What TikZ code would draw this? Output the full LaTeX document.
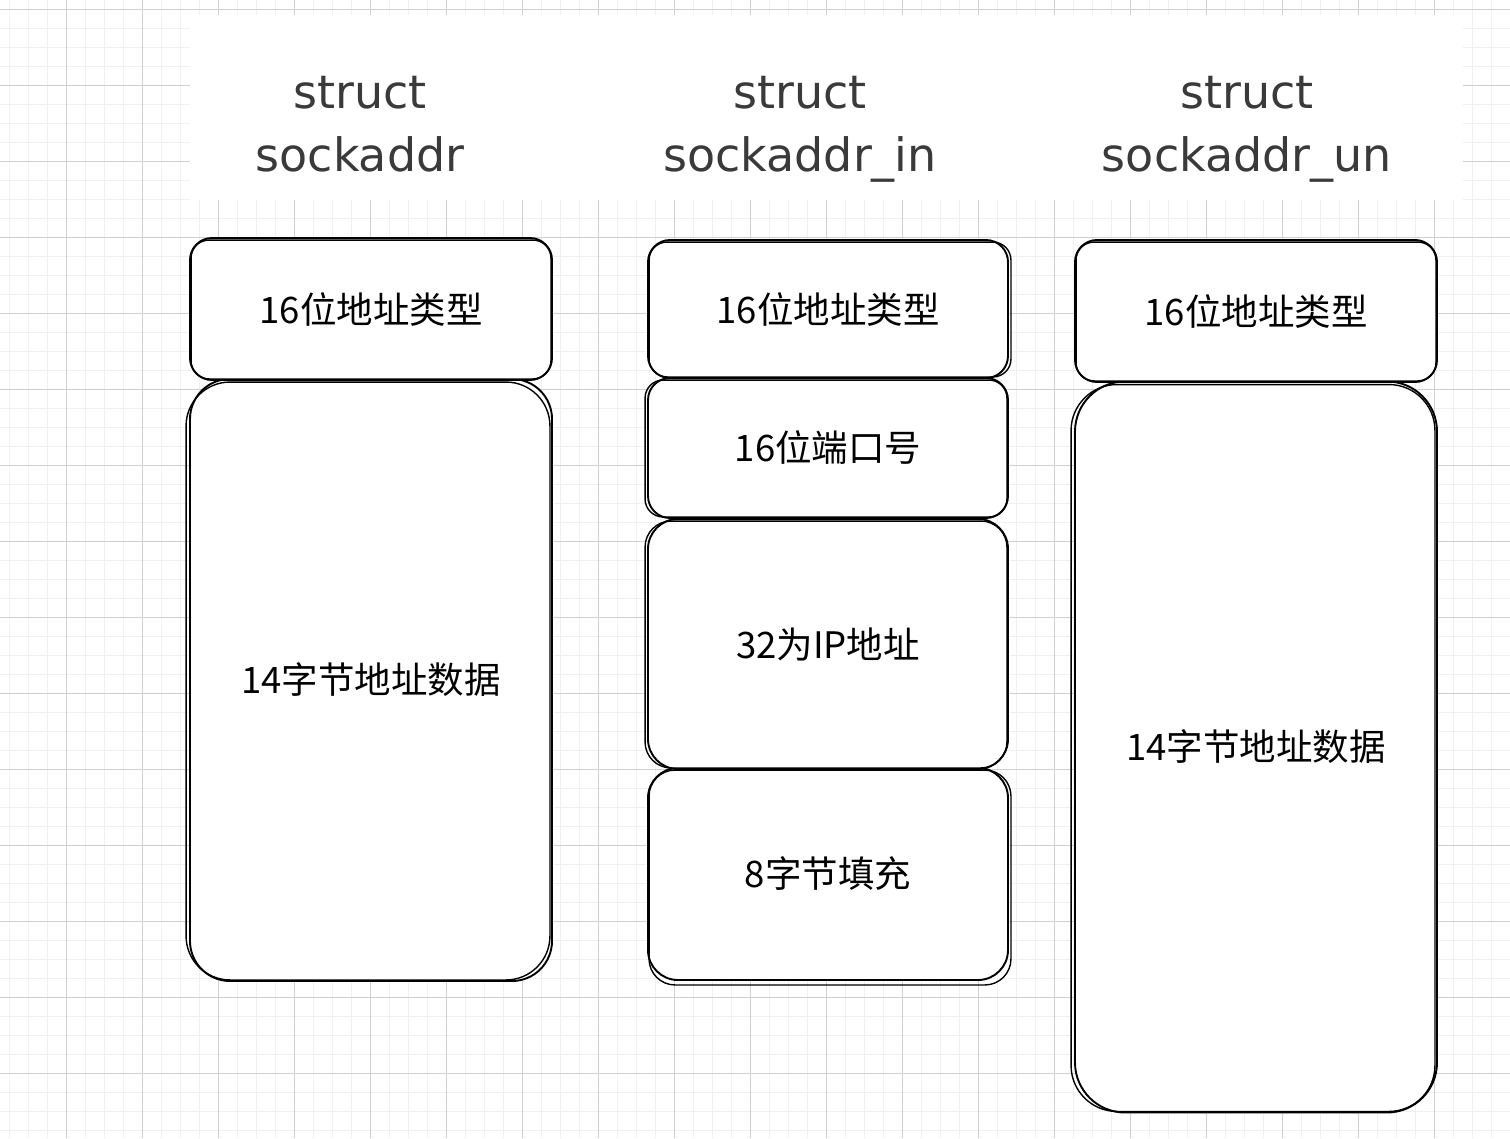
\documentclass[tikz,border=0pt]{standalone}
\usepackage{fontspec}
\newfontfamily\cjk{Noto Sans CJK SC}
\newfontfamily\titlefont{DejaVu Sans}
\definecolor{minorgrid}{RGB}{240,240,240}
\definecolor{majorgrid}{RGB}{208,208,208}
\definecolor{titlegray}{RGB}{58,58,58}
\begin{document}
\begin{tikzpicture}[x=1pt,y=-1pt,
  cell/.style={draw=black, line width=1.9pt, fill=white, rounded corners=#1, inner sep=0pt,
    rectangle, font=\cjk\fontsize{36.5}{42}\selectfont, text=black},
  cell/.default=22pt,
  ttl/.style={font=\titlefont\fontsize{46}{63}\selectfont, text=titlegray, align=center},
  sketch/.style={draw=black, line width=1.4pt}]
\useasboundingbox (0,0) rectangle (1510,1138);
\fill[white] (0,0) rectangle (1510,1138);
% grid
\foreach \i in {0,...,79} {\draw[minorgrid, line width=1pt] ({9.7+19*\i},0) -- ({9.7+19*\i},1138);}
\foreach \i in {0,...,60} {\draw[minorgrid, line width=1pt] (0,{9.3+19*\i}) -- (1510,{9.3+19*\i});}
\foreach \i in {0,...,20} {\draw[majorgrid, line width=1pt] ({-9.3+76*\i},0) -- ({-9.3+76*\i},1138);}
\foreach \i in {0,...,15} {\draw[majorgrid, line width=1pt] (0,{9.3+76*\i}) -- (1510,{9.3+76*\i});}
% title background
\fill[white] (190,15) rectangle (1463,200);
% titles
\node[ttl] (t1) at (360,124) {struct\\sockaddr};
\node[ttl] (t2) at (800,129) {struct\\sockaddr\_in};
\node[ttl] (t3) at (1247,129) {struct\\sockaddr\_un};
% column 1
\node[cell=40pt, minimum width=362pt, minimum height=602pt] (a2) at (371,680) {14字节地址数据};
\draw[sketch, rounded corners=44pt] ([shift={(-3pt,-4pt)}]a2.north west) rectangle ([shift={(-3pt,2pt)}]a2.south east);
\node[cell, minimum width=362pt, minimum height=142pt] (a1) at (371,309) {16位地址类型};
\draw[sketch, rounded corners=18pt] ([shift={(2pt,-3pt)}]a1.north west) rectangle ([shift={(-2pt,2pt)}]a1.south east);
% column 2
\node[cell=30pt, minimum width=360pt, minimum height=212pt] (b4) at (828,874) {8字节填充};
\draw[sketch, rounded corners=26pt] ([shift={(2pt,-3pt)}]b4.north west) rectangle ([shift={(2pt,-4pt)}]b4.south east);
\node[cell=30pt, minimum width=360pt, minimum height=250pt] (b3) at (828,644) {32为IP地址};
\draw[sketch, rounded corners=26pt] ([shift={(-2pt,-3pt)}]b3.north west) rectangle ([shift={(-2pt,2pt)}]b3.south east);
\node[cell, minimum width=360pt, minimum height=140pt] (b2) at (828,448) {16位端口号};
\draw[sketch, rounded corners=18pt] ([shift={(-2pt,-3pt)}]b2.north west) rectangle ([shift={(-2pt,2pt)}]b2.south east);
\node[cell, minimum width=360pt, minimum height=138pt] (b1) at (828,309) {16位地址类型};
\draw[sketch, rounded corners=18pt] ([shift={(2pt,-3pt)}]b1.north west) rectangle ([shift={(2pt,2pt)}]b1.south east);
% column 3
\node[cell=50pt, minimum width=362pt, minimum height=731pt] (c2) at (1256,747) {14字节地址数据};
\draw[sketch, rounded corners=46pt] ([shift={(-3pt,-4pt)}]c2.north west) rectangle ([shift={(-3pt,2pt)}]c2.south east);
\node[cell, minimum width=362pt, minimum height=142pt] (c1) at (1256,311) {16位地址类型};
\draw[sketch, rounded corners=18pt] ([shift={(2pt,-3pt)}]c1.north west) rectangle ([shift={(-2pt,2pt)}]c1.south east);
\end{tikzpicture}
\end{document}
